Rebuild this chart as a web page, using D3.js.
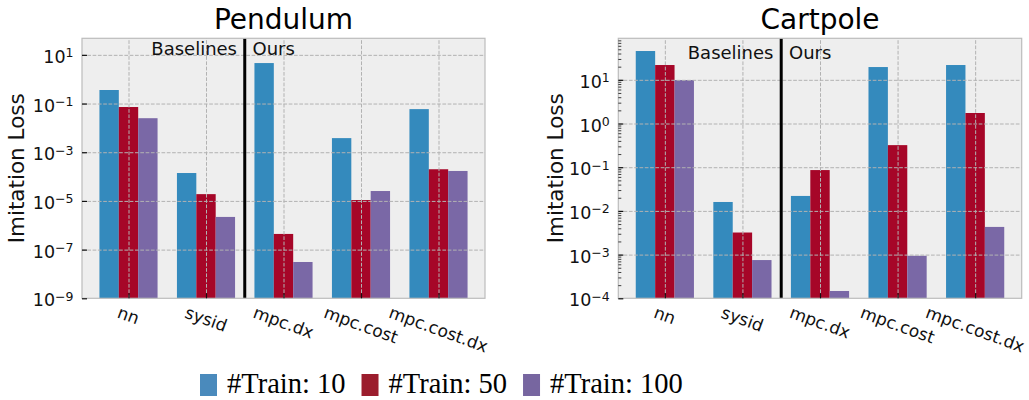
<!DOCTYPE html>
<html><head><meta charset="utf-8">
<script src="https://cdn.jsdelivr.net/npm/d3@7"></script>
<style>body{margin:0;background:#fff} svg{display:block}</style>
</head><body><svg id="c" width="1029" height="400"></svg>
<script>
const categories = ["nn", "sysid", "mpc.dx", "mpc.cost", "mpc.cost.dx"];
const seriesLabels = ["#Train: 10", "#Train: 50", "#Train: 100"];
const pendulumTrain10 = [0.36, 1.4e-4, 4.6, 3.8e-3, 0.059];
const pendulumTrain50 = [0.072, 1.9e-5, 4.4e-7, 1.09e-5, 2.0e-4];
const pendulumTrain100 = [0.025, 2.2e-6, 3.1e-8, 2.55e-5, 1.7e-4];
const cartpoleTrain10 = [45.6, 0.016, 0.022, 19.6, 21.8];
const cartpoleTrain50 = [21.8, 0.0032, 0.086, 0.32, 1.74];
const cartpoleTrain100 = [9.9, 7.5e-4, 1.47e-4, 9.4e-4, 4.3e-3];
const pendulumTicks = [1e1, 1e-1, 1e-3, 1e-5, 1e-7, 1e-9];
const pendulumExponents = [1, -1, -3, -5, -7, -9];
const cartpoleTicks = [1e1, 1e0, 1e-1, 1e-2, 1e-3, 1e-4];
const cartpoleExponents = [1, 0, -1, -2, -3, -4];
const barColors = ["#348ABD", "#A60628", "#7A68A6"];
const legendColors = ["#4a8abc", "#9b1d2d", "#7766a0"];

const svg = d3.select("#c");
svg.append("rect").attr("width", 1029).attr("height", 400).attr("fill", "#fff");

function panel(o) {
  const x = d3.scaleLinear().domain([-0.6, 4.6]).range([o.x0, o.x1]);
  const y = d3.scaleLog().domain(o.yDomain).range([o.y1, o.y0]);
  const g = svg.append("g");
  g.append("rect").attr("x", o.x0).attr("y", o.y0).attr("width", o.x1 - o.x0).attr("height", o.y1 - o.y0).attr("fill", "#eeeeee");
  const bw = x(0.25) - x(0);
  o.series.forEach((vals, s) => {
    g.append("g").selectAll("rect").data(vals).join("rect")
      .attr("x", (d, i) => x(i + (s - 1) * 0.25 - 0.125))
      .attr("width", bw)
      .attr("y", d => y(d))
      .attr("height", d => o.y1 - y(d))
      .attr("fill", barColors[s]);
  });
  // grid
  const gy = g.append("g").attr("transform", `translate(${o.x0},0)`)
    .call(d3.axisLeft(y).tickValues(o.ticks.filter(t => y(t) > o.y0 + 1 && y(t) < o.y1 - 1)).tickSize(-(o.x1 - o.x0)).tickFormat(""));
  gy.select(".domain").remove();
  gy.selectAll("line").attr("stroke", "#b2b2b2").attr("stroke-dasharray", "3.7,1.6").attr("stroke-width", 1);
  const gx = g.append("g").attr("transform", `translate(0,${o.y1})`)
    .call(d3.axisBottom(x).tickValues(categories.map((c, i) => i)).tickSize(-(o.y1 - o.y0)).tickFormat(""));
  gx.select(".domain").remove();
  gx.selectAll("line").attr("stroke", "#b2b2b2").attr("stroke-dasharray", "3.7,1.6").attr("stroke-width", 1);
  // separator
  g.append("line").attr("x1", x(1.5)).attr("x2", x(1.5)).attr("y1", o.y0).attr("y2", o.y1).attr("stroke", "#000").attr("stroke-width", 3);
  // border
  g.append("rect").attr("x", o.x0).attr("y", o.y0).attr("width", o.x1 - o.x0).attr("height", o.y1 - o.y0)
    .attr("fill", "none").attr("stroke", "#bcbcbc").attr("stroke-width", 1.2);
  // ticks
  const tx = g.append("g").attr("transform", `translate(0,${o.y1})`)
    .call(d3.axisBottom(x).tickValues(categories.map((c, i) => i)).tickSize(-5).tickFormat(""));
  tx.select(".domain").remove();
  tx.selectAll("line").attr("stroke", "#111").attr("stroke-width", 1.2);
  const ty = g.append("g").attr("transform", `translate(${o.x0},0)`)
    .call(d3.axisLeft(y).tickValues(o.ticks).tickSize(-5).tickFormat(""));
  ty.select(".domain").remove();
  ty.selectAll("line").attr("stroke", "#111").attr("stroke-width", 1.2);
  if (o.minor) {
    const minor = [];
    const [lo, hi] = o.yDomain;
    for (let e = Math.floor(Math.log10(lo)); e <= Math.ceil(Math.log10(hi)); e++)
      for (let m = 2; m <= 9; m++) { const v = m * Math.pow(10, e); if (v > lo && v < hi) minor.push(v); }
    const tm = g.append("g").attr("transform", `translate(${o.x0},0)`)
      .call(d3.axisLeft(y).tickValues(minor).tickSize(-3).tickFormat(""));
    tm.select(".domain").remove();
    tm.selectAll("line").attr("stroke", "#111").attr("stroke-width", 0.8);
  }
  // y tick labels
  o.ticks.forEach((t, i) => {
    const txt = g.append("text").attr("x", o.x0 - 8.5).attr("y", y(t) + 8)
      .attr("text-anchor", "end").attr("font-family", "DejaVu Sans").attr("font-size", 17.5).attr("fill", "#111");
    txt.append("tspan").text("10");
    const e = o.exps[i];
    txt.append("tspan").attr("font-size", 12.5).attr("dy", -5.5).text(e < 0 ? "\u2212" + (-e) : String(e));
  });
  // x tick labels rotated 20deg
  const ang = 20 * Math.PI / 180, fs = 17;
  categories.forEach((c, i) => {
    const gg = g.append("g");
    const t = gg.append("text").attr("text-anchor", "middle").attr("font-family", "DejaVu Sans")
      .attr("font-size", fs).attr("fill", "#111").attr("y", 0.346 * fs).text(c);
    const w = t.node().getComputedTextLength();
    const H = w * Math.sin(ang) + 1.164 * fs * Math.cos(ang);
    gg.attr("transform", `translate(${x(i)},${o.y1 + 4 + H / 2}) rotate(20)`);
  });
  // annotations
  g.append("text").attr("x", x(1.4)).attr("y", y(o.annY)).attr("text-anchor", "end")
    .attr("font-family", "DejaVu Sans").attr("font-size", 18).attr("fill", "#111").text("Baselines");
  g.append("text").attr("x", x(1.6)).attr("y", y(o.annY)).attr("text-anchor", "start")
    .attr("font-family", "DejaVu Sans").attr("font-size", 18).attr("fill", "#111").text("Ours");
  // title
  g.append("text").attr("x", (o.x0 + o.x1) / 2).attr("y", 29.3).attr("text-anchor", "middle")
    .attr("font-family", "DejaVu Sans").attr("font-size", 28).attr("fill", "#000").text(o.title);
  // y label
  g.append("text").attr("transform", `translate(${o.labelX},${(o.y0 + o.y1) / 2}) rotate(-90)`)
    .attr("text-anchor", "middle").attr("font-family", "DejaVu Sans").attr("font-size", 21.5).attr("fill", "#111").text("Imitation Loss");
}

panel({x0: 82, x1: 485, y0: 38.3, y1: 298.3, yDomain: [1e-9, Math.pow(10, 1.68)],
  series: [pendulumTrain10, pendulumTrain50, pendulumTrain100], ticks: pendulumTicks, exps: pendulumExponents,
  title: "Pendulum", labelX: 24, annY: 10, minor: false});
panel({x0: 618.3, x1: 1021.7, y0: 38.3, y1: 298.3, yDomain: [1e-4, Math.pow(10, 1.95)],
  series: [cartpoleTrain10, cartpoleTrain50, cartpoleTrain100], ticks: cartpoleTicks, exps: cartpoleExponents,
  title: "Cartpole", labelX: 562.5, annY: 30, minor: true});

// legend
const lg = svg.append("g");
let lx = 200;
seriesLabels.forEach((s, i) => {
  lg.append("rect").attr("x", lx).attr("y", 374).attr("width", 17).attr("height", 22).attr("fill", legendColors[i]);
  const t = lg.append("text").attr("x", lx + 27).attr("y", 392.5).attr("font-family", "Liberation Serif")
    .attr("font-size", 28.5).attr("fill", "#000").text(s);
  lx += 27 + t.node().getComputedTextLength() + 16;
});
</script>
</body></html>
